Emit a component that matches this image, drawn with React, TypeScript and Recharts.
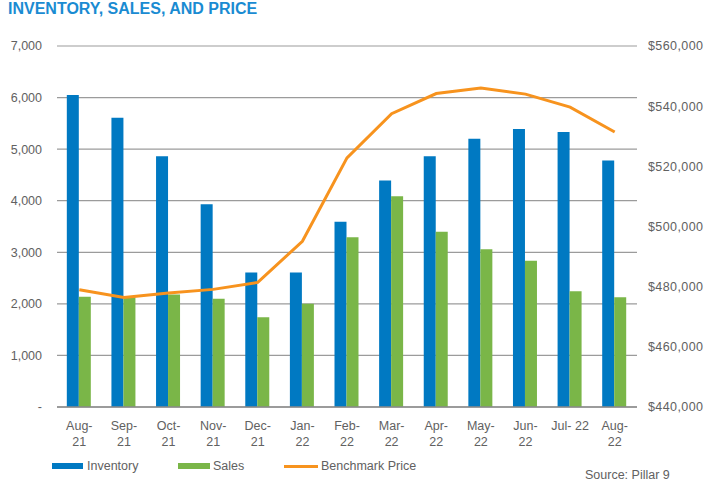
import React from "react";
import { ComposedChart, Bar, Line, XAxis, YAxis, CartesianGrid } from "recharts";

const months = ["Aug-21", "Sep-21", "Oct-21", "Nov-21", "Dec-21", "Jan-22", "Feb-22", "Mar-22", "Apr-22", "May-22", "Jun-22", "Jul-22", "Aug-22"];
const tickLabels = ["Aug-|21", "Sep-|21", "Oct-|21", "Nov-|21", "Dec-|21", "Jan-|22", "Feb-|22", "Mar-|22", "Apr-|22", "May-|22", "Jun-|22", "Jul- 22", "Aug-|22"];
const inventory = [6050, 5610, 4860, 3930, 2610, 2610, 3590, 4390, 4860, 5200, 5390, 5330, 4780];
const sales = [2140, 2130, 2180, 2100, 1740, 2000, 3290, 4085, 3400, 3060, 2835, 2245, 2130];
const price = [479000, 476400, 477900, 479100, 481400, 495100, 522800, 537500, 544200, 546000, 544000, 539700, 531400];

const leftTicks = [0, 1000, 2000, 3000, 4000, 5000, 6000, 7000];
const rightTicks = [440000, 460000, 480000, 500000, 520000, 540000, 560000];

const data = months.map((m, i) => ({
  month: m,
  inventory: inventory[i],
  sales: sales[i],
  price: price[i],
}));

const FONT = '"Liberation Sans", Arial, sans-serif';
const GREY = "#616161";

// two-line month labels, split on "|"
const MonthTick = (props: any) => {
  const { x, y, payload } = props;
  const lines = tickLabels[payload.index].split("|");
  return (
    <g transform={`translate(${x},${y})`}>
      {lines.map((t, i) => (
        <text key={i} x={0} y={15 + i * 16} textAnchor="middle" fill={GREY} fontSize={12.5} fontFamily={FONT}>
          {t}
        </text>
      ))}
    </g>
  );
};

const App = () => {
  return (
    <div style={{ position: "fixed", left: 0, top: 0, width: 709, height: 488, background: "#fff", fontFamily: FONT }}>
      <div style={{ position: "absolute", left: 8, top: 0, fontSize: 16, lineHeight: "17px", fontWeight: "bold", color: "#1a8bd2" }}>
        INVENTORY, SALES, AND PRICE
      </div>
      <ComposedChart
        width={709}
        height={488}
        data={data}
        margin={{ top: 46, right: 0, bottom: 41, left: 0 }}
        barCategoryGap="22%"
        barGap={0}
      >
        <CartesianGrid yAxisId="left" vertical={false} stroke="#9b9b9b" strokeWidth={1.2} />
        <XAxis
          dataKey="month"
          height={40}
          interval={0}
          tickLine={false}
          axisLine={{ stroke: "#8a8a8a", strokeWidth: 1.5 }}
          tick={<MonthTick />}
        />
        <YAxis
          yAxisId="left"
          width={57}
          domain={[0, 7000]}
          ticks={leftTicks}
          axisLine={false}
          tickLine={false}
          tickMargin={9}
          tick={{ fill: GREY, fontSize: 12.5, fontFamily: FONT }}
          tickFormatter={(v: number) => (v === 0 ? "-" : v.toLocaleString("en-US"))}
        />
        <YAxis
          yAxisId="right"
          orientation="right"
          width={72}
          domain={[440000, 560000]}
          ticks={rightTicks}
          axisLine={false}
          tickLine={false}
          tickMargin={5}
          tick={{ fill: GREY, fontSize: 12.5, fontFamily: FONT, textAnchor: "start", letterSpacing: 0.4 }}
          tickFormatter={(v: number) => "$" + v.toLocaleString("en-US")}
        />
        <Bar yAxisId="left" dataKey="inventory" fill="#0079c2" isAnimationActive={false} />
        <Bar yAxisId="left" dataKey="sales" fill="#7ab648" isAnimationActive={false} />
        <Line
          yAxisId="right"
          type="linear"
          dataKey="price"
          stroke="#f7931e"
          strokeWidth={3}
          dot={false}
          isAnimationActive={false}
        />
      </ComposedChart>
      <div style={{ position: "absolute", left: 52, top: 459, display: "flex", alignItems: "center", fontSize: 12.5, color: GREY }}>
        <span style={{ display: "inline-block", width: 31, height: 6, background: "#0079c2", marginRight: 4 }} />
        <span style={{ width: 91 }}>Inventory</span>
        <span style={{ display: "inline-block", width: 32, height: 6, background: "#7ab648", marginRight: 3 }} />
        <span style={{ width: 71 }}>Sales</span>
        <span style={{ display: "inline-block", width: 34, height: 3, background: "#f7931e", marginRight: 3 }} />
        <span>Benchmark Price</span>
      </div>
      <div style={{ position: "absolute", left: 585, top: 468, fontSize: 12.5, color: GREY }}>Source: Pillar 9</div>
    </div>
  );
};

export default App;
